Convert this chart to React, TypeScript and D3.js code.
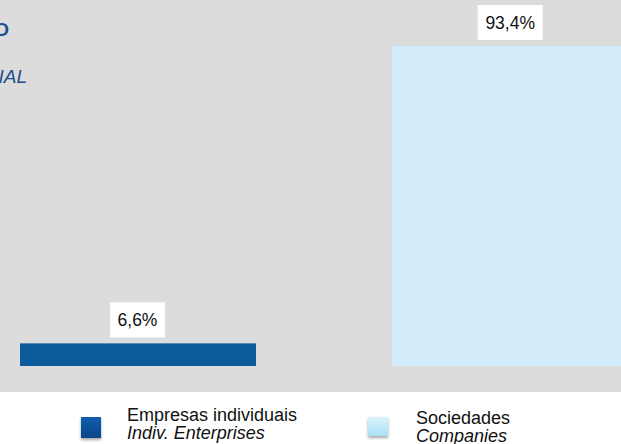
import React from "react";
import * as d3 from "d3";

const categories = ["Empresas individuais", "Sociedades"];
const categoriesEn = ["Indiv. Enterprises", "Companies"];
const values = [6.6, 93.4];
const labels = ["6,6%", "93,4%"];
const colors = ["#0a5a9c", "#d3ecfc"];

const W = 621;
const H = 444;

export default function App() {
  const x = d3.scaleBand<string>().domain(categories).range([20, 628]).paddingInner(0.3656).paddingOuter(0);
  const y = d3.scaleLinear().domain([0, 100]).range([366, 366 - 342.6]);
  const font = "Arial, 'Liberation Sans', sans-serif";
  const legendX = [81, 368];
  const legendTextX = [127, 416];
  return (
    <div style={{ position: "fixed", left: 0, top: 0, width: W, height: H, overflow: "hidden", background: "#fff" }}>
      <svg width={W} height={H} style={{ display: "block" }}>
        <defs>
          <linearGradient id="g0" x1="0" y1="0" x2="0" y2="1">
            <stop offset="0" stopColor="#0d5eae" />
            <stop offset="1" stopColor="#08468a" />
          </linearGradient>
          <linearGradient id="g1" x1="0" y1="0" x2="0" y2="1">
            <stop offset="0" stopColor="#dcf3fc" />
            <stop offset="1" stopColor="#a9e2f6" />
          </linearGradient>
          <filter id="sh" x="-30%" y="-30%" width="160%" height="170%">
            <feDropShadow dx="0" dy="2" stdDeviation="1.5" floodColor="#000" floodOpacity="0.35" />
          </filter>
        </defs>
        <rect x={0} y={0} width={W} height={392} fill="#dcdcdc" />
        <text x={9} y={36} textAnchor="end" fontFamily={font} fontWeight="bold" fontSize={19} fill="#1f4e8c">
          EMPRESAS SEGUNDO
        </text>
        <text x={27} y={83} textAnchor="end" fontFamily={font} fontStyle="italic" fontSize={19} fill="#1f4e8c">
          ENTERPRISES BY COMMERCIAL
        </text>
        {categories.map((c, i) => {
          const bx = x(c)!;
          const bw = x.bandwidth();
          const top = y(values[i]);
          const lx = i === 0 ? 137.5 : 510.2;
          const lw = i === 0 ? 55 : 65;
          return (
            <g key={c}>
              <rect x={bx} y={top} width={bw} height={y(0) - top} fill={colors[i]} />
              <rect x={lx - lw / 2} y={top - 41} width={lw} height={35} fill="#fff" />
              <text x={lx} y={top - 17} textAnchor="middle" fontFamily={font} fontSize={17.5} fill="#111">
                {labels[i]}
              </text>
            </g>
          );
        })}
        {categories.map((c, i) => (
          <g key={"lg" + c}>
            <rect x={legendX[i]} y={417} width={20} height={i === 0 ? 21 : 19} fill={`url(#g${i})`} filter="url(#sh)" />
            <text x={legendTextX[i]} y={i === 0 ? 421 : 424} fontFamily={font} fontSize={18} fill="#111">
              {c}
            </text>
            <text x={legendTextX[i]} y={i === 0 ? 439 : 442} fontFamily={font} fontStyle="italic" fontSize={18} fill="#111">
              {categoriesEn[i]}
            </text>
          </g>
        ))}
      </svg>
    </div>
  );
}
